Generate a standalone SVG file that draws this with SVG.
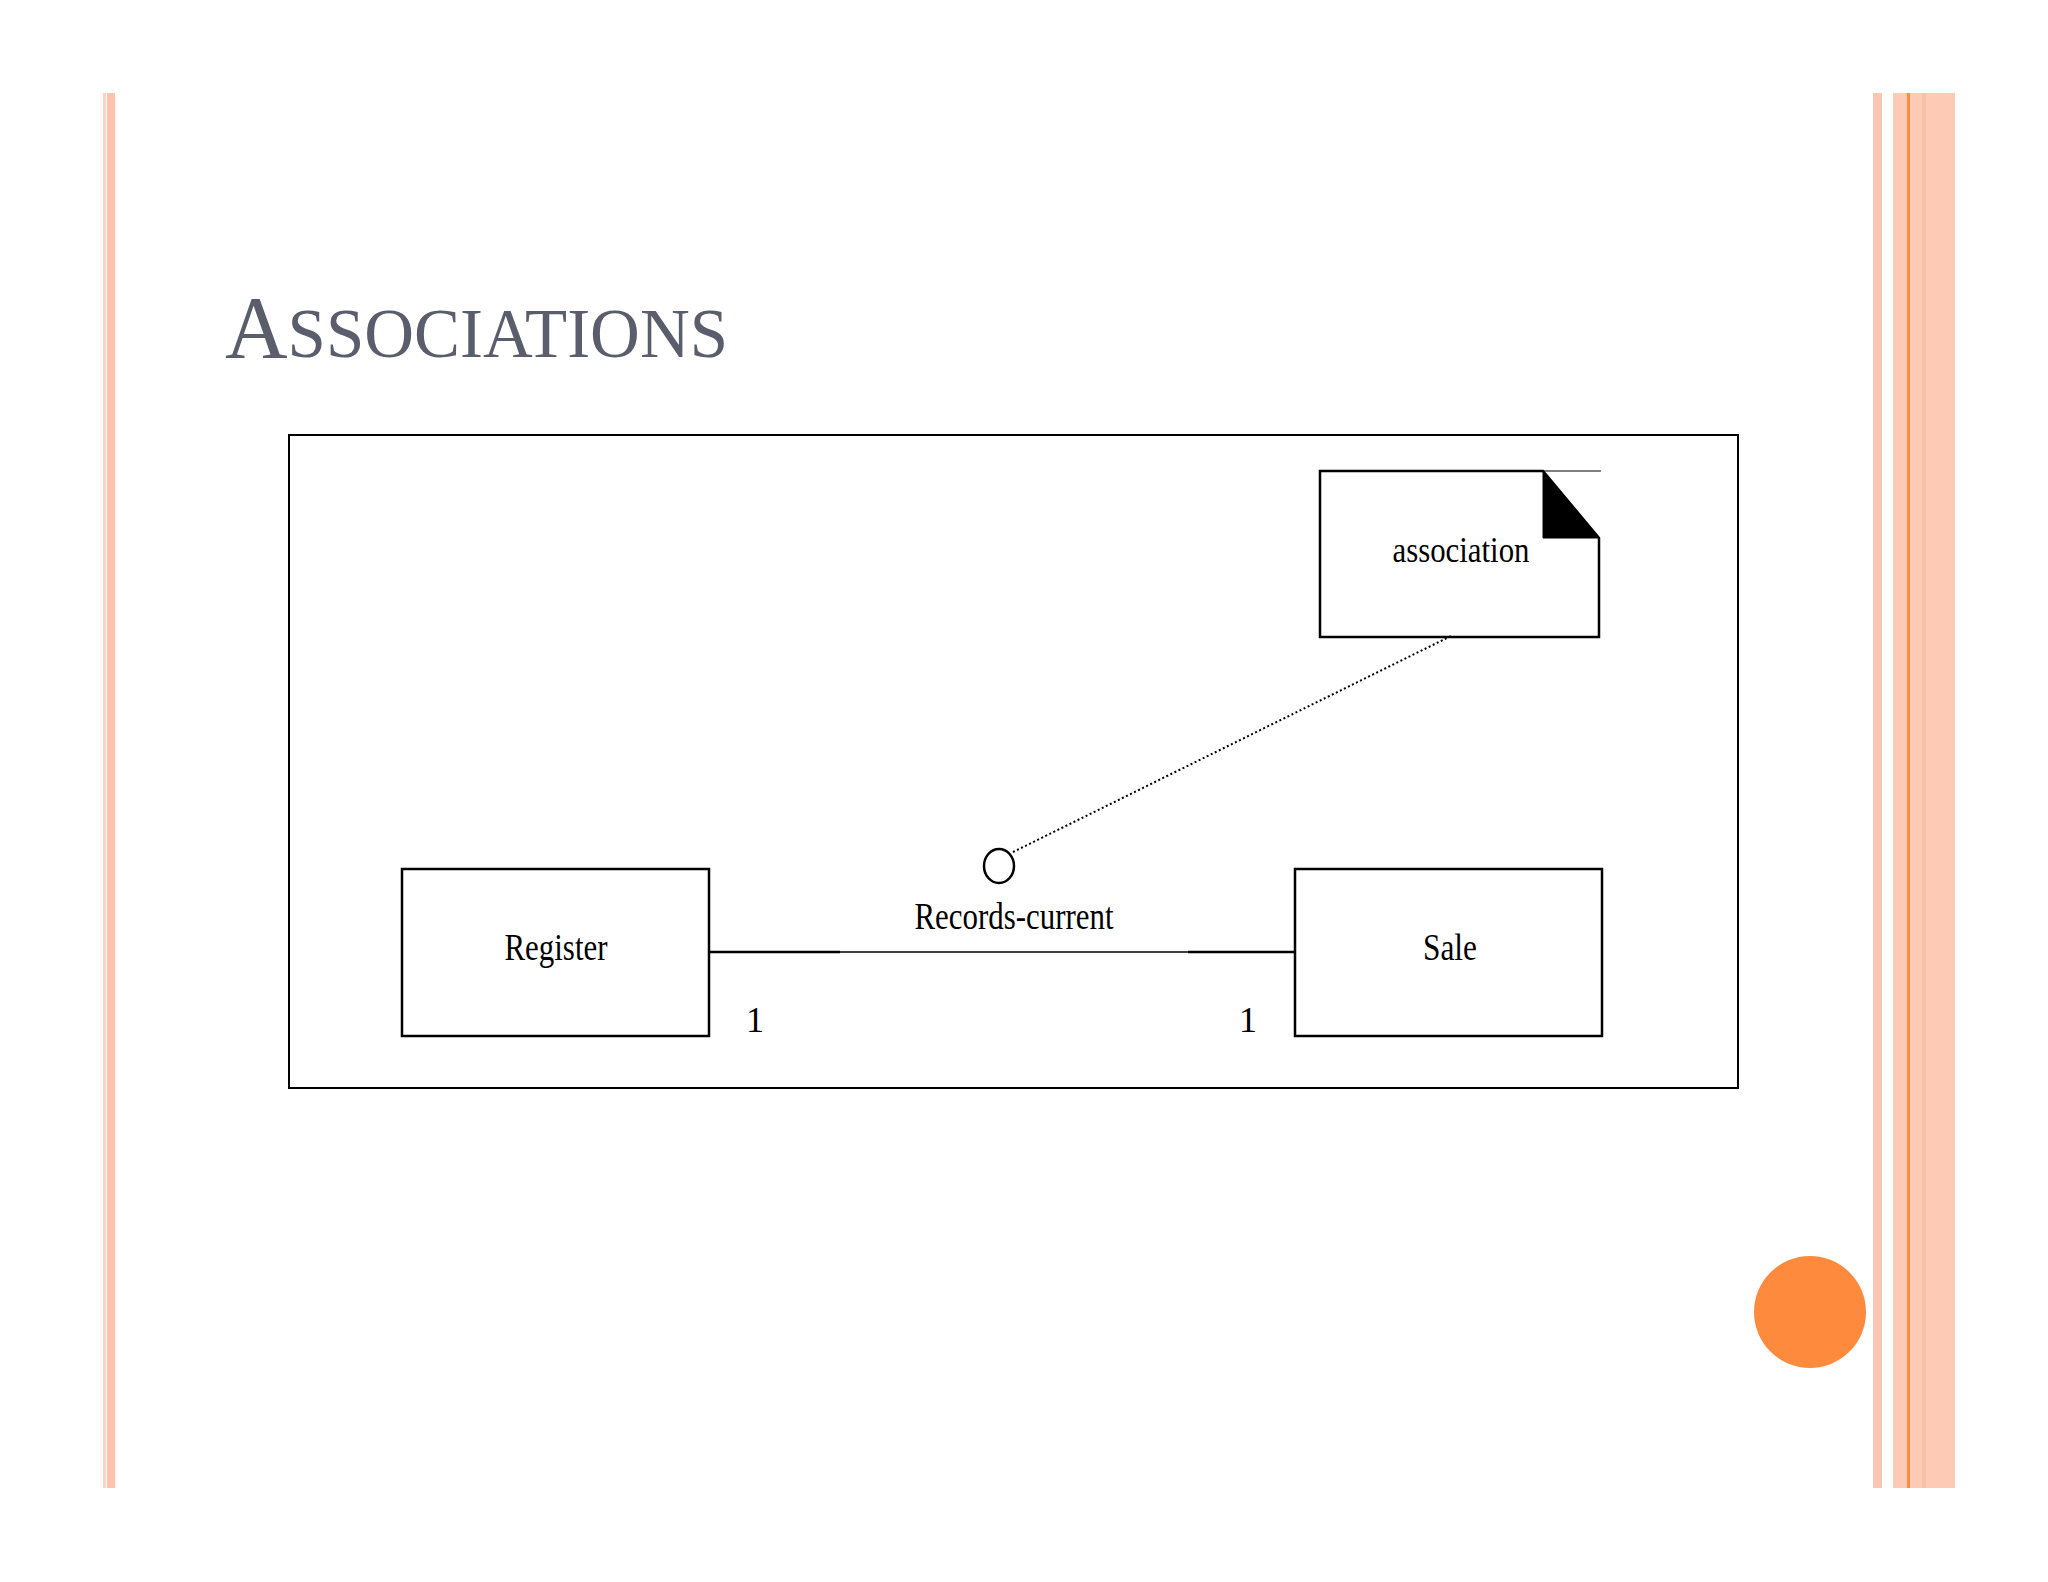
<svg xmlns="http://www.w3.org/2000/svg" width="2048" height="1582" viewBox="0 0 2048 1582">
<style>
.box{fill:#fff;stroke:#000;stroke-width:2.5}
.lbl{font-family:"Liberation Serif","Times New Roman",serif;fill:#000;text-anchor:middle}
.conn{stroke:#000;fill:none}
</style>
<rect width="2048" height="1582" fill="#fff"/>
<g id="decor">
<rect x="103" y="93" width="3" height="1395" fill="#fdd2c0"/>
<rect x="107" y="93" width="8" height="1395" fill="#fcc3ac"/>
<rect x="1873" y="93" width="9" height="1395" fill="#fcc6b0"/>
<rect x="1893" y="93" width="62" height="1395" fill="#fdcab5"/>
<rect x="1922" y="93" width="4" height="1395" fill="#fcc0a8"/>
<rect x="1907" y="93" width="3" height="1395" fill="#f98b44"/>
<circle cx="1810" cy="1312" r="56" fill="#fd8a3d"/>
</g>
<text id="title" x="225" y="357" font-family="'Liberation Serif','Times New Roman',serif" fill="#5a5d6b" textLength="503" lengthAdjust="spacingAndGlyphs"><tspan font-size="88">A</tspan><tspan font-size="70">SSOCIATIONS</tspan></text>
<rect id="frame" x="289" y="435" width="1449" height="653" fill="none" stroke="#000" stroke-width="2"/>
<g id="note">
<path d="M1320,471 H1543 L1599,538 V637 H1320 Z" class="box"/>
<path d="M1543,471 V538 H1599 Z" fill="#000" stroke="#000" stroke-width="1"/>
<line x1="1543" y1="471" x2="1601" y2="471" stroke="#000" stroke-width="1.2"/>
<text class="lbl" x="1461" y="562" font-size="36" textLength="137" lengthAdjust="spacingAndGlyphs">association</text>
</g>
<g id="register">
<rect x="402" y="869" width="307" height="167" class="box"/>
<text class="lbl" x="556" y="960" font-size="37" textLength="103" lengthAdjust="spacingAndGlyphs">Register</text>
</g>
<g id="sale">
<rect x="1295" y="869" width="307" height="167" class="box"/>
<text class="lbl" x="1450" y="960" font-size="37" textLength="54" lengthAdjust="spacingAndGlyphs">Sale</text>
</g>
<g id="connectors">
<line x1="709" y1="952" x2="840" y2="952" class="conn" stroke-width="2.5"/>
<line x1="840" y1="952" x2="1188" y2="952" class="conn" stroke-width="1.6"/>
<line x1="1188" y1="952" x2="1295" y2="952" class="conn" stroke-width="2.5"/>
<ellipse cx="999" cy="866" rx="15" ry="17" class="conn" stroke-width="2.5"/>
<line x1="1013" y1="852" x2="1451" y2="636" class="conn" stroke-width="2" stroke-dasharray="2 2.5"/>
</g>
<g id="labels">
<text class="lbl" x="1014" y="929" font-size="37" textLength="199" lengthAdjust="spacingAndGlyphs">Records-current</text>
<text class="lbl" x="755" y="1032" font-size="36">1</text>
<text class="lbl" x="1248" y="1032" font-size="36">1</text>
</g>
</svg>
